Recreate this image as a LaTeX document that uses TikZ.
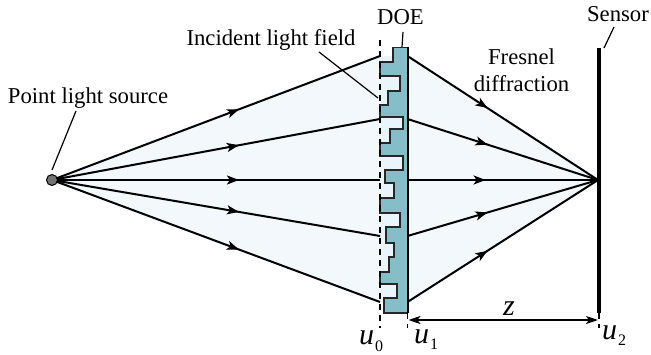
\documentclass[tikz,border=0pt]{standalone}
\usepackage{fontspec}
\setmainfont{Liberation Serif}
\usetikzlibrary{arrows.meta,decorations.markings}
\definecolor{fieldblue}{HTML}{F3F8FC}
\definecolor{notchblue}{HTML}{E9F4FB}
\definecolor{doeteal}{HTML}{85BDC9}
\newcommand{\ulabel}[1]{\textit{u}\raisebox{-6pt}{\kern1pt\fontsize{16}{18}\selectfont #1}}
\tikzset{
  x=1pt,y=-1pt,
  lbl/.style={font=\fontsize{22.7}{27}\selectfont,inner sep=0pt,text=black,anchor=base},
  leader/.style={line width=1.2pt,black},
  guide/.style={line width=1.2pt,dash pattern=on 6pt off 5pt,black},
  ray/.style={line width=2pt,black,postaction={decorate}},
  tipL/.style={decoration={markings,mark=at position #1 with {\arrow{Stealth[length=12pt,width=9pt,inset=3pt]}}}},
  mathlbl/.style={lbl,anchor=base west,font=\fontsize{30}{34}\selectfont}
}
\begin{document}
\begin{tikzpicture}
\useasboundingbox (0,0) rectangle (651,355);
\coordinate (S) at (52,180);
\coordinate (F) at (598,180);
\foreach \n/\y in {a/56,b/119,c/180,d/236,e/302}{
  \coordinate (L\n) at (380,\y);
  \coordinate (R\n) at (407.5,\y);
}
% light field fills
\fill[fieldblue] (S) -- (La) -- (Le) -- cycle;
\fill[fieldblue] (F) -- (Ra) -- (Re) -- cycle;
\fill[notchblue] (380,56) rectangle (407,302);
% DOE
\filldraw[fill=doeteal,draw=black!85,line width=1.8pt,line join=miter]
 (407.5,47.5) -- (393,47.5) -- (393,62) -- (380,62) -- (380,76) -- (400,76) -- (400,91) -- (388,91) -- (388,105) -- (380,105) -- (380,117)
 -- (403,117) -- (403,129) -- (390,129) -- (390,143) -- (380,143) -- (380,156) -- (403,156) -- (403,170) -- (385,170) -- (385,183)
 -- (394,183) -- (394,198) -- (380,198) -- (380,213) -- (400,213) -- (400,227) -- (386,227) -- (386,243) -- (394,243) -- (394,257)
 -- (389,257) -- (389,272) -- (380,272) -- (380,284) -- (397,284) -- (397,298) -- (384,298) -- (384,313) -- (407.5,313) -- cycle;
\draw[black,line width=2pt] (407.5,47.5) -- (407.5,313);
% guides
\coordinate (u0t) at (380,40);
\coordinate (u0b) at (380,328);
\coordinate (u1t) at (407.5,313);
\coordinate (u1b) at (407.5,328);
\coordinate (u2t) at (599,313);
\coordinate (u2b) at (599,328);
\draw[guide] (u0t) -- (u0b);
\draw[guide] (u1t) -- (u1b);
\draw[guide] (u2t) -- (u2b);
% rays
\foreach \n/\p in {a/0.57,b/0.57,c/0.57,d/0.57,e/0.57}{
  \draw[ray,tipL=\p] (S) -- (L\n);
}
\foreach \n/\p in {a/0.42,b/0.42,c/0.41,d/0.42,e/0.42}{
  \draw[ray,tipL=\p] (R\n) -- (F);
}
% source
\node[circle,fill=black!55,draw=black,line width=1pt,minimum size=11pt,inner sep=0pt] (src) at (S) {};
% sensor
\coordinate (sT) at (599,48);
\coordinate (sB) at (599,313);
\draw[black,line width=4pt] (sT) -- (sB);
% distance
\coordinate (zL) at (408.5,320);
\coordinate (zR) at (598,320);
\draw[line width=1.6pt,{Stealth[length=12pt,width=8pt,inset=3pt]}-{Stealth[length=12pt,width=8pt,inset=3pt]}] (zL) -- (zR);
% labels
\node[lbl] (pls) at (88,104) {Point light source};
\node[lbl] (ilf) at (271,46) {Incident light field};
\node[lbl] (doe) at (400.5,25) {DOE};
\node[lbl] (sen) at (618,22) {Sensor};
\node[lbl] (fre) at (521.5,65) {Fresnel};
\node[lbl] (dif) at (521.5,92) {diffraction};
\node[mathlbl,anchor=base] (zlab) at (509,316) {\textit{z}};
\node[mathlbl] (u0) at (359,345) {\ulabel{0}};
\node[mathlbl] (u1) at (414,344) {\ulabel{1}};
\node[mathlbl] (u2) at (602,340) {\ulabel{2}};
% leaders
\coordinate (p1) at (76,111);
\coordinate (p2) at (52,170);
\draw[leader] (p1) -- (p2);
\coordinate (i1) at (319,52);
\coordinate (i2) at (378,98);
\draw[leader] (i1) -- (i2);
\coordinate (d1) at (403,32);
\coordinate (d2) at (402,47);
\draw[leader] (d1) -- (d2);
\coordinate (n1) at (614,27);
\coordinate (n2) at (604,48);
\draw[leader] (n1) -- (n2);
\end{tikzpicture}
\end{document}
